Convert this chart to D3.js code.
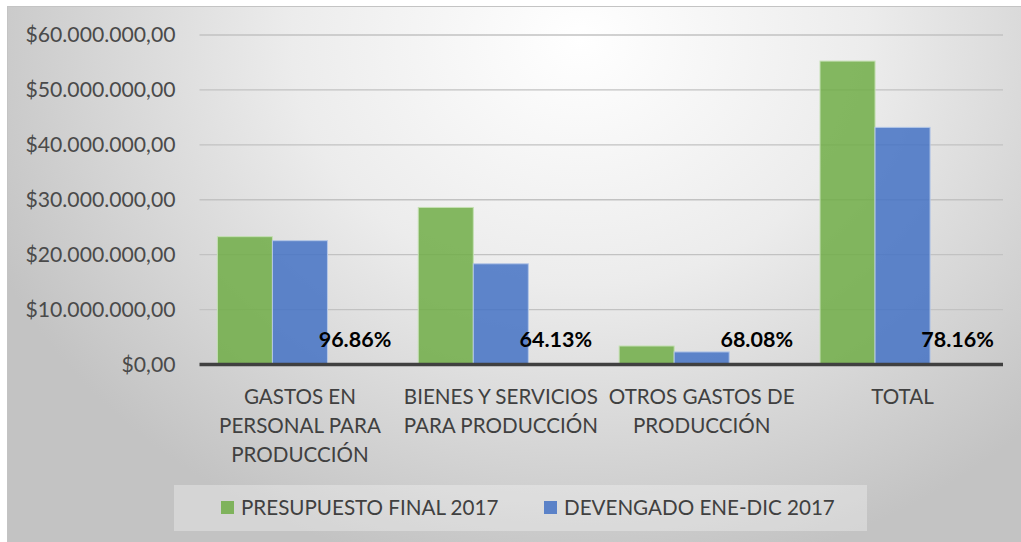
<!DOCTYPE html>
<html>
<head>
<meta charset="utf-8">
<script src="https://cdn.jsdelivr.net/npm/d3@7"></script>
<style>
  html, body { margin: 0; padding: 0; background: #ffffff; }
  svg { display: block; }
  text { font-family: Lato, "Open Sans", sans-serif; }
</style>
</head>
<body>
<svg id="chart" width="1021" height="542"></svg>
<script>
// Budget categories (line breaks mark how each label wraps)
const categories = [
  "GASTOS EN\nPERSONAL PARA\nPRODUCCIÓN",
  "BIENES Y SERVICIOS\nPARA PRODUCCIÓN",
  "OTROS GASTOS DE\nPRODUCCIÓN",
  "TOTAL"
];
const seriesNames = ["PRESUPUESTO FINAL 2017", "DEVENGADO ENE-DIC 2017"];
const presupuesto = [23280000, 28600000, 3370000, 55250000];
const devengado   = [22550000, 18340000, 2290000, 43180000];
const ejecucion   = ["96.86%", "64.13%", "68.08%", "78.16%"];
const yTicks = [0, 10000000, 20000000, 30000000, 40000000, 50000000, 60000000];

const W = 1021, H = 542;
const svg = d3.select("#chart");
const defs = svg.append("defs");

// Chart-area background: light radial gradient fading to grey at the edges
const grad = defs.append("radialGradient")
  .attr("id", "bg").attr("gradientUnits", "userSpaceOnUse")
  .attr("cx", 580).attr("cy", 40).attr("r", 640)
  .attr("gradientTransform", "translate(580,40) scale(1,0.85) translate(-580,-40)");
grad.append("stop").attr("offset", "0").attr("stop-color", "#ffffff");
grad.append("stop").attr("offset", "0.45").attr("stop-color", "#ececec");
grad.append("stop").attr("offset", "1").attr("stop-color", "#c3c3c3");

svg.append("rect")
  .attr("x", 7.5).attr("y", 6.5).attr("width", W - 7).attr("height", H - 6)
  .attr("fill", "url(#bg)").attr("stroke", "#c4c4c4").attr("stroke-width", 1);

// Plot area
const plot = { left: 199.5, right: 1003, top: 35, bottom: 364.5 };

const y = d3.scaleLinear().domain([0, 60000000]).range([plot.bottom, plot.top]);
const x0 = d3.scaleBand().domain(categories).range([plot.left, plot.right]).paddingInner(0).paddingOuter(0);
const x1 = d3.scaleBand().domain(["p", "d", "e"]).range([0, x0.bandwidth()])
  .paddingInner(0).paddingOuter(0.325);

const fmtMoney = v => "$" + d3.format(",.2f")(v).replace(/,/g, "#").replace(/\./g, ",").replace(/#/g, ".");

// Gridlines
const grid = svg.append("g");
grid.selectAll("line").data(yTicks.filter(t => t > 0)).join("line")
  .attr("x1", plot.left).attr("x2", plot.right)
  .attr("y1", d => y(d)).attr("y2", d => y(d))
  .attr("stroke", "#c2c2c2").attr("stroke-width", 1.3);

// Y axis tick labels
const yAxis = svg.append("g")
  .attr("transform", `translate(${plot.left},0)`)
  .call(d3.axisLeft(y).tickValues(yTicks).tickFormat(fmtMoney).tickSize(0).tickPadding(24));
yAxis.select(".domain").remove();
yAxis.selectAll("text")
  .attr("fill", "#4a4a4a").style("font-size", "21.2px").style("font-family", "Lato, sans-serif");

// Bars
const groups = svg.append("g").selectAll("g").data(categories).join("g")
  .attr("transform", d => `translate(${x0(d)},0)`);

groups.append("rect")
  .attr("x", x1("p")).attr("width", x1.bandwidth())
  .attr("y", (d, i) => y(presupuesto[i]))
  .attr("height", (d, i) => y(0) - y(presupuesto[i]))
  .attr("fill", "#70AD47").attr("fill-opacity", 0.85)
  .attr("stroke", "#c5e0b4").attr("stroke-width", 1);

groups.append("rect")
  .attr("x", x1("d")).attr("width", x1.bandwidth())
  .attr("y", (d, i) => y(devengado[i]))
  .attr("height", (d, i) => y(0) - y(devengado[i]))
  .attr("fill", "#4472C4").attr("fill-opacity", 0.85)
  .attr("stroke", "#b4c7e7").attr("stroke-width", 1);

// Execution percentage labels
groups.append("text")
  .attr("x", x1("e") + x1.bandwidth() / 2)
  .attr("y", y(0) - 18)
  .attr("text-anchor", "middle")
  .attr("fill", "#000000")
  .style("font-size", "21.5px").style("font-weight", "bold")
  .text((d, i) => ejecucion[i]);

// Category axis line
svg.append("line")
  .attr("x1", plot.left).attr("x2", plot.right)
  .attr("y1", y(0)).attr("y2", y(0))
  .attr("stroke", "#404040").attr("stroke-width", 3.5);

// Category labels
const catLabels = svg.append("g").selectAll("text").data(categories).join("text")
  .attr("text-anchor", "middle")
  .attr("fill", "#404040")
  .style("font-size", "20.6px")
  .attr("transform", d => `translate(${x0(d) + x0.bandwidth() / 2},${y(0) + 39})`);
catLabels.selectAll("tspan").data(d => d.split("\n")).join("tspan")
  .attr("x", 0).attr("dy", (d, i) => i === 0 ? 0 : 29)
  .text(d => d);

// Legend
const legend = svg.append("g");
legend.append("rect")
  .attr("x", 174).attr("y", 485).attr("width", 693).attr("height", 46)
  .attr("fill", "#ffffff").attr("fill-opacity", 0.3);
const legendColors = ["#70AD47", "#4472C4"];
const legendX = [221, 544];
const items = legend.selectAll("g").data(seriesNames).join("g")
  .attr("transform", (d, i) => `translate(${legendX[i]},501)`);
items.append("rect").attr("width", 13).attr("height", 13)
  .attr("fill", (d, i) => legendColors[i]).attr("fill-opacity", 0.85);
items.append("text").attr("x", 20).attr("y", 14)
  .attr("fill", "#404040").style("font-size", "20.6px")
  .text(d => d);
</script>
</body>
</html>
